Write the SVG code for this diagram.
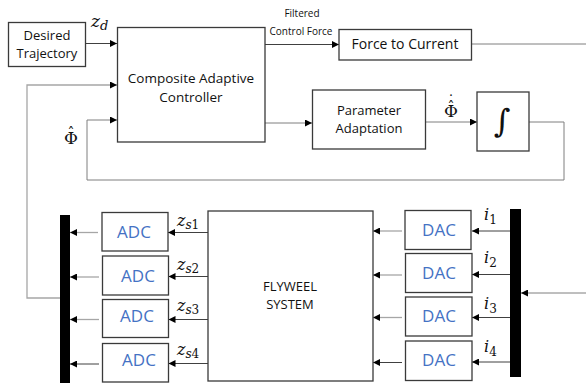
<svg xmlns="http://www.w3.org/2000/svg" width="586" height="383" viewBox="0 0 586 383">
<style>
.box{fill:#fff;stroke:#3a3a3a;stroke-width:1.3}
.t{font-family:"Open Sans","Liberation Sans",sans-serif;fill:#111;text-anchor:middle}
.b{font-family:"Open Sans","Liberation Sans",sans-serif;fill:#4472c4;text-anchor:middle;font-size:17px}
.m{font-family:"DejaVu Serif","Liberation Serif",serif;font-style:italic;fill:#111}
.g{font-family:"DejaVu Serif","Liberation Serif",serif;fill:#111;text-anchor:middle}
.c{fill:none;stroke:#404040;stroke-width:1}
.lg{fill:none;stroke:#a6a6a6;stroke-width:1.3}
.mg{fill:none;stroke:#7f7f7f;stroke-width:1}
.bar{fill:#000}
</style>
<defs>
<marker id="ah" viewBox="0 0 10 10" refX="10" refY="5" markerWidth="7" markerHeight="7" markerUnits="userSpaceOnUse" orient="auto">
<path d="M0,0 L10,5 L0,10 z" fill="#000"/>
</marker>
</defs>

<g id="connectors">
<line class="c" x1="86" y1="43.5" x2="117" y2="43.5" marker-end="url(#ah)"/>
<path class="lg" d="M60,298 H27 V85 H117" marker-end="url(#ah)"/>
<path class="mg" d="M529,122 H564 V180 H87 V120 H117" marker-end="url(#ah)"/>
<line class="c" x1="265" y1="44.5" x2="339" y2="44.5" marker-end="url(#ah)"/>
<line class="mg" x1="472" y1="44" x2="586" y2="44"/>
<line class="mg" x1="265" y1="123" x2="312" y2="123" marker-end="url(#ah)"/>
<line class="mg" x1="425" y1="122" x2="477" y2="122" marker-end="url(#ah)"/>
<line class="c" x1="208" y1="232.5" x2="168" y2="232.5" marker-end="url(#ah)"/>
<line class="c" x1="208" y1="276.5" x2="168.5" y2="276.5" marker-end="url(#ah)"/>
<line class="c" x1="208" y1="319.5" x2="168.5" y2="319.5" marker-end="url(#ah)"/>
<line class="c" x1="208" y1="363.5" x2="168.5" y2="363.5" marker-end="url(#ah)"/>
<line class="lg" x1="98" y1="232.5" x2="70" y2="232.5" marker-end="url(#ah)"/>
<line class="lg" x1="99" y1="277" x2="70" y2="277" marker-end="url(#ah)"/>
<line class="lg" x1="99" y1="319.5" x2="70" y2="319.5" marker-end="url(#ah)"/>
<line class="c" x1="99" y1="364" x2="70" y2="364" marker-end="url(#ah)"/>
<line class="lg" x1="402" y1="231" x2="373" y2="231" marker-end="url(#ah)"/>
<line class="lg" x1="402" y1="275" x2="373" y2="275" marker-end="url(#ah)"/>
<line class="lg" x1="402" y1="317.5" x2="373" y2="317.5" marker-end="url(#ah)"/>
<line class="c" x1="402" y1="362.5" x2="373" y2="362.5" marker-end="url(#ah)"/>
<line class="c" x1="510" y1="231" x2="472" y2="231" marker-end="url(#ah)"/>
<line class="c" x1="510" y1="274.5" x2="472" y2="274.5" marker-end="url(#ah)"/>
<line class="c" x1="510" y1="317.5" x2="472" y2="317.5" marker-end="url(#ah)"/>
<line class="c" x1="510" y1="362" x2="472" y2="362" marker-end="url(#ah)"/>
<line class="mg" x1="586" y1="293" x2="521" y2="293" marker-end="url(#ah)"/>
</g>

<g id="labels">
<text class="m" x="91" y="27" font-size="17">z<tspan font-size="13" dy="3">d</tspan></text>
<text class="t" x="302" y="17" font-size="10">Filtered</text>
<text class="t" x="301" y="35" font-size="10">Control Force</text>
<text class="g" x="71" y="144" font-size="17">Φ<tspan x="71" y="138" font-size="14">ˆ</tspan></text>
<text class="g" x="451" y="117" font-size="17">Φ<tspan x="451" y="112" font-size="14">ˆ</tspan><tspan x="451" y="106" font-size="14">˙</tspan></text>
<text class="m" x="177" y="226" font-size="16">z<tspan font-size="12" dy="3">s</tspan><tspan font-style="normal" font-size="12">1</tspan></text>
<text class="m" x="177" y="270" font-size="16">z<tspan font-size="12" dy="3">s</tspan><tspan font-style="normal" font-size="12">2</tspan></text>
<text class="m" x="177" y="311" font-size="16">z<tspan font-size="12" dy="3">s</tspan><tspan font-style="normal" font-size="12">3</tspan></text>
<text class="m" x="177" y="355" font-size="16">z<tspan font-size="12" dy="3">s</tspan><tspan font-style="normal" font-size="12">4</tspan></text>
<text class="m" x="484" y="220" font-size="16">i<tspan font-style="normal" font-size="12" dy="4">1</tspan></text>
<text class="m" x="484" y="263" font-size="16">i<tspan font-style="normal" font-size="12" dy="4">2</tspan></text>
<text class="m" x="484" y="309" font-size="16">i<tspan font-style="normal" font-size="12" dy="4">3</tspan></text>
<text class="m" x="484" y="352" font-size="16">i<tspan font-style="normal" font-size="12" dy="4">4</tspan></text>
</g>

<g id="desired-trajectory">
<rect class="box" x="8.5" y="22.5" width="77" height="44"/>
<text class="t" x="47" y="40" font-size="13">Desired</text>
<text class="t" x="47" y="58" font-size="13">Trajectory</text>
</g>
<g id="composite-controller">
<rect class="box" x="117.5" y="27.5" width="147.5" height="114.5"/>
<text class="t" x="191" y="83" font-size="13.5">Composite Adaptive</text>
<text class="t" x="191" y="102" font-size="13.5">Controller</text>
</g>
<g id="force-to-current">
<rect class="box" x="339" y="29.5" width="132.5" height="30.5"/>
<text class="t" x="405" y="49" font-size="14">Force to Current</text>
</g>
<g id="parameter-adaptation">
<rect class="box" x="312.5" y="90" width="113" height="59"/>
<text class="t" x="369" y="115" font-size="13">Parameter</text>
<text class="t" x="369" y="133" font-size="13">Adaptation</text>
</g>
<g id="integrator">
<rect class="box" x="477" y="92" width="52" height="59"/>
<text class="g" x="502" y="132" font-size="32">∫</text>
</g>
<g id="flywheel">
<rect class="box" x="208" y="211" width="165" height="170"/>
<text class="t" x="290" y="291" font-size="13">FLYWEEL</text>
<text class="t" x="290" y="309" font-size="13">SYSTEM</text>
</g>
<g id="adc1"><rect class="box" x="102" y="212.5" width="66" height="38.5"/><text class="b" x="134" y="238">ADC</text></g>
<g id="adc2"><rect class="box" x="102.5" y="256" width="66" height="39"/><text class="b" x="138" y="282">ADC</text></g>
<g id="adc3"><rect class="box" x="102.5" y="299.5" width="66" height="38"/><text class="b" x="137" y="322">ADC</text></g>
<g id="adc4"><rect class="box" x="102.5" y="343.5" width="66" height="38.5"/><text class="b" x="139" y="366">ADC</text></g>
<g id="dac1"><rect class="box" x="405" y="210.5" width="66" height="39"/><text class="b" x="439" y="236">DAC</text></g>
<g id="dac2"><rect class="box" x="405.5" y="253.5" width="66.5" height="39"/><text class="b" x="439" y="279">DAC</text></g>
<g id="dac3"><rect class="box" x="405.5" y="297" width="66.5" height="39"/><text class="b" x="439" y="322">DAC</text></g>
<g id="dac4"><rect class="box" x="405.5" y="341" width="66.5" height="39.5"/><text class="b" x="439" y="366">DAC</text></g>
<g id="left-bus"><rect class="bar" x="60" y="215" width="10" height="168"/></g>
<g id="right-bus"><rect class="bar" x="510" y="209" width="11" height="168"/></g>
</svg>
